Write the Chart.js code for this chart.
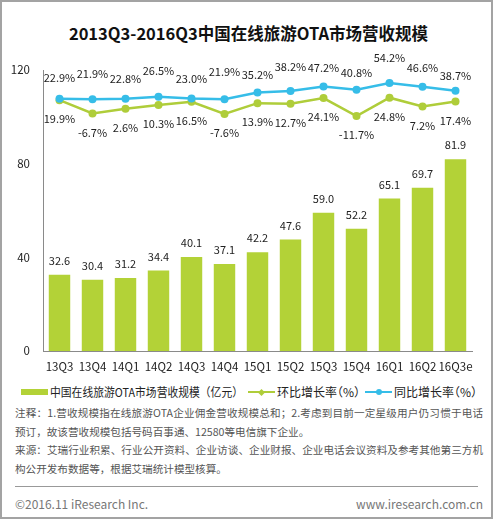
<!DOCTYPE html>
<html><head><meta charset="utf-8">
<script src="https://cdn.jsdelivr.net/npm/chart.js@4.4.0/dist/chart.umd.min.js"></script>
<style>
html,body{margin:0;padding:0;background:#fff;}
body{width:493px;height:519px;position:relative;overflow:hidden;font-family:"Noto Sans CJK SC","Microsoft YaHei",sans-serif;}
#frame{position:absolute;left:0;top:0;width:493px;height:519px;box-sizing:border-box;border:2px solid #a3a3a3;pointer-events:none;}
#title{position:absolute;left:0;top:21px;width:497px;text-align:center;font-weight:bold;font-size:16.5px;line-height:24px;color:#111;}
#chartBox{position:absolute;left:0;top:0;width:493px;height:380px;}
#legend{position:absolute;left:0;top:383px;width:493px;height:18px;font-size:12px;line-height:18px;color:#222;white-space:nowrap;}
#legend .item{position:absolute;top:0;height:18px;display:flex;align-items:center;}
#legend .icon{position:relative;width:27px;height:10px;margin-right:2px;flex:none;}
#legend .icon.bar::before{content:"";position:absolute;left:0;top:2px;width:27px;height:6px;background:var(--c);}
#legend .icon.line::before{content:"";position:absolute;left:0;top:4px;width:27px;height:2px;background:var(--c);}
#legend .icon.diamond::after{content:"";position:absolute;left:11px;top:2.5px;width:5px;height:5px;background:var(--c);transform:rotate(45deg);}
#legend .icon.circle::after{content:"";position:absolute;left:10.5px;top:2px;width:6px;height:6px;border-radius:50%;background:var(--c);}
#legend .txt{display:inline-block;transform-origin:0 50%;}
#legend .halt{font-feature-settings:"halt";}
#notes{position:absolute;left:15px;top:404px;width:468px;font-size:10.6px;line-height:18.5px;color:#555;}
#notes div{white-space:nowrap;}
#notes .full{text-align:justify;text-align-last:justify;}
#rule{position:absolute;left:15px;top:486px;width:463px;height:1px;background:#999;}
#foot{position:absolute;left:15px;top:495px;width:468px;font-size:12px;line-height:18px;color:#777;}
#foot .r{position:absolute;right:0;top:0;}
</style></head>
<body>
<div id="title">2013Q3-2016Q3中国在线旅游OTA市场营收规模</div>
<div id="chartBox"><canvas id="c"></canvas></div>
<div id="legend"></div>
<div id="notes">
<div class="full">注释：1.营收规模指在线旅游OTA企业佣金营收规模总和；2.考虑到目前一定星级用户仍习惯于电话</div>
<div>预订，故该营收规模包括号码百事通、12580等电信旗下企业。</div>
<div class="full">来源：艾瑞行业积累、行业公开资料、企业访谈、企业财报、企业电话会议资料及参考其他第三方机</div>
<div>构公开发布数据等，根据艾瑞统计模型核算。</div>
</div>
<div id="rule"></div>
<div id="foot"><span>©2016.11 iResearch Inc.</span><span class="r">www.iresearch.com.cn</span></div>
<div id="frame"></div>
<script>
const categories = ['13Q3','13Q4','14Q1','14Q2','14Q3','14Q4','15Q1','15Q2','15Q3','15Q4','16Q1','16Q2','16Q3e'];
const revenue = [32.6,30.4,31.2,34.4,40.1,37.1,42.2,47.6,59.0,52.2,65.1,69.7,81.9];
const qoqGrowth = [19.9,-6.7,2.6,10.3,16.5,-7.6,13.9,12.7,24.1,-11.7,24.8,7.2,17.4];
const yoyGrowth = [22.9,21.9,22.8,26.5,23.0,21.9,35.2,38.2,47.2,40.8,54.2,46.6,38.7];
const yTicks = [0,40,80,120];
const seriesNames = ['中国在线旅游OTA市场营收规模（亿元）','环比增长率（%）','同比增长率（%）'];

const BAR = '#b3d237', GREEN = '#afcd3a', BLUE = '#36bde8';
const FONT = '"Noto Sans CJK SC","Microsoft YaHei",sans-serif';
// label lift (px) above the YoY points, to stagger labels as in the original
const yoyLabelLift = [21,25,20,26,20,27,18,24,19,17,25,19,15];

// HTML legend built from the series names (layout: icon kind, colour, left edge, max text width)
const legendSpec = [
  { cls:'bar', color:BAR, text:'', left:21, maxW:193 },
  { cls:'line diamond', color:GREEN, text:'halt', left:248, maxW:86 },
  { cls:'line circle', color:BLUE, text:'halt', left:365, maxW:88 }
];
const legendEl = document.getElementById('legend');
seriesNames.forEach((name, i) => {
  const sp = legendSpec[i];
  const item = document.createElement('div'); item.className = 'item'; item.style.left = sp.left + 'px';
  const icon = document.createElement('div'); icon.className = 'icon ' + sp.cls; icon.style.setProperty('--c', sp.color);
  const txt = document.createElement('span'); txt.className = 'txt ' + sp.text; txt.textContent = name;
  item.appendChild(icon); item.appendChild(txt); legendEl.appendChild(item);
  const w = txt.getBoundingClientRect().width;
  if (w > sp.maxW) txt.style.transform = 'scaleX(' + (sp.maxW / w) + ')';
});

const valueLabels = {
  id: 'valueLabels',
  afterDatasetsDraw(chart){
    const ctx = chart.ctx;
    ctx.save();
    ctx.font = '11px ' + FONT;
    ctx.fillStyle = '#222';
    ctx.textAlign = 'center';
    ctx.textBaseline = 'middle';
    chart.data.datasets.forEach((ds, i) => {
      const meta = chart.getDatasetMeta(i);
      meta.data.forEach((el, j) => {
        const v = ds.data[j];
        if (i === 0) ctx.fillText(v.toFixed(1), el.x, el.y - 14);
        else if (i === 1) ctx.fillText(v.toFixed(1) + '%', el.x, el.y + 19);
        else ctx.fillText(v.toFixed(1) + '%', el.x, el.y - yoyLabelLift[j]);
      });
    });
    ctx.restore();
  }
};

new Chart(document.getElementById('c'), {
  data: {
    labels: categories,
    datasets: [
      { type:'bar', label: seriesNames[0], data: revenue, backgroundColor: BAR, yAxisID:'y',
        barPercentage:0.65, categoryPercentage:1, order:3 },
      { type:'line', label: seriesNames[1], data: qoqGrowth, borderColor: GREEN, backgroundColor: GREEN,
        yAxisID:'y1', borderWidth:2.5, pointRadius:4, pointBorderWidth:0, pointBackgroundColor: GREEN, tension:0, order:2 },
      { type:'line', label: seriesNames[2], data: yoyGrowth, borderColor: BLUE, backgroundColor: BLUE,
        yAxisID:'y1', borderWidth:2.5, pointRadius:4, pointBorderWidth:0, pointBackgroundColor: BLUE, tension:0, order:1 }
    ]
  },
  options: {
    responsive:true, maintainAspectRatio:false, animation:false,
    layout:{ padding:{ top:70, left:0, right:0, bottom:0 } },
    plugins:{
      tooltip:{enabled:false},
      title:{display:false},
      legend:{display:false}
    },
    scales:{
      x:{
        grid:{display:false, drawTicks:false},
        border:{display:true, color:'#8a8a8a', width:1},
        ticks:{ font:{size:11.5, family:FONT}, color:'#222', padding:9, maxRotation:0, autoSkip:false },
        afterFit: s => { s.height = 29; }
      },
      y:{
        position:'left', min:yTicks[0], max:yTicks[yTicks.length-1],
        afterBuildTicks: s => { s.ticks = yTicks.map(v => ({value:v})); },
        grid:{display:false, drawTicks:false},
        border:{display:true, color:'#8a8a8a', width:1},
        ticks:{ font:{size:11.5, family:FONT}, color:'#222', padding:13 },
        afterFit: s => { s.width = 43; }
      },
      y1:{
        position:'right', min:-480, max:80,
        grid:{display:false, drawTicks:false},
        border:{display:false},
        ticks:{display:false},
        afterFit: s => { s.width = 21; }
      }
    }
  },
  plugins:[valueLabels]
});
</script>
</body></html>
